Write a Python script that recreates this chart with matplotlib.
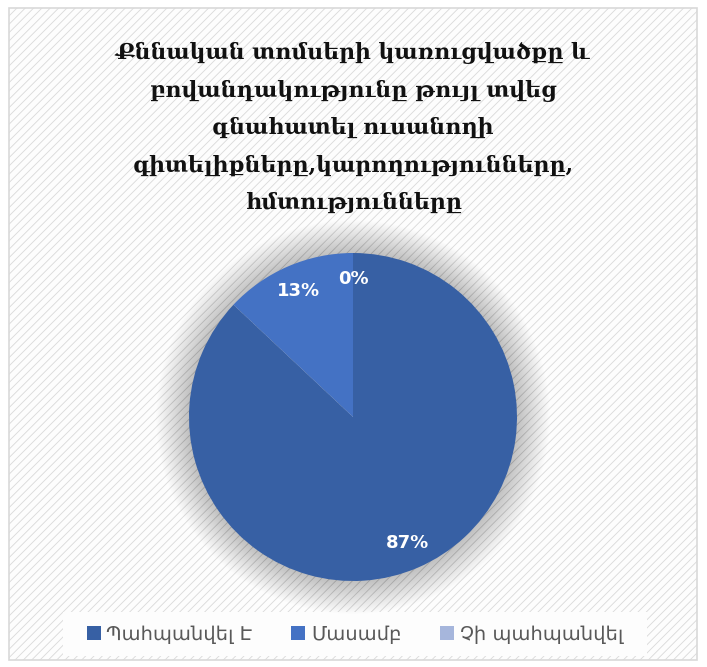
import matplotlib
matplotlib.use("Agg")
import matplotlib.pyplot as plt
from matplotlib.patches import Rectangle, Circle, Patch

categories = ["Պահպանվել Է", "Մասամբ", "Չի պահպանվել"]
values = [87, 13, 0]
colors = ["#3760a4", "#4472c4", "#a6b6dc"]
title = ("Քննական տոմսերի կառուցվածքը և\n"
         "բովանդակությունը թույլ տվեց\n"
         "գնահատել ուսանողի\n"
         "գիտելիքները,կարողությունները,\n"
         "հմտությունները")

W, H = 707, 667
plt.rcParams["hatch.color"] = "#f0f0f0"
plt.rcParams["hatch.linewidth"] = 0.6
fig = plt.figure(figsize=(W / 100, H / 100), dpi=100)
fig.patch.set_facecolor("white")

# background panel with subtle stripes
bg = fig.add_axes([0, 0, 1, 1])
bg.set_xlim(0, W)
bg.set_ylim(H, 0)
bg.axis("off")
panel = Rectangle((9, 8), 688, 652, facecolor="#fdfdfd", edgecolor="#d9d9d9",
                  lw=1.2, hatch="////", zorder=0)
bg.add_patch(panel)
# legend box
bg.add_patch(Rectangle((63, 612), 584, 44, facecolor="#fdfdfd", edgecolor="none", zorder=1))

bg.text(353, 128, title, ha="center", va="center", fontsize=15.8, fontweight="bold",
        family=["DejaVu Serif", "DejaVu Sans"], linespacing=1.9, color="#111111")

# pie axes
cx, cy, r = 353, 417, 164
k = 1.3
ax = fig.add_axes([(cx - r * k) / W, (H - cy - r * k) / H, 2 * r * k / W, 2 * r * k / H])

# soft shadow
n = 30
for i in range(n):
    rr = 1.0 + 0.2 * (n - i) / n
    ax.add_patch(Circle((0, 0), rr, facecolor="#000000", alpha=0.006, edgecolor="none", zorder=0))

wedges, texts, autotexts = ax.pie(values, colors=colors, startangle=90, counterclock=False,
                                  autopct="%1.0f%%", pctdistance=0.84, radius=1.0,
                                  wedgeprops=dict(edgecolor="none"))
ax.set_xlim(-k, k)
ax.set_ylim(-k, k)
ax.set_aspect("equal")
ax.axis("off")
for w in wedges:
    w.set_zorder(2)
for t in autotexts:
    t.set_color("white")
    t.set_fontsize(13)
    t.set_fontweight("bold")
    t.set_zorder(3)

handles = [Patch(facecolor=c, edgecolor="none") for c in colors]
leg = fig.legend(handles, categories, loc="center", bbox_to_anchor=(355 / W, 1 - 634 / H),
                 ncol=3, frameon=False, fontsize=14, handlelength=0.7, handleheight=0.7,
                 handletextpad=0.3, columnspacing=2.0, labelcolor="#595959")

fig.savefig("out.png", dpi=100)
